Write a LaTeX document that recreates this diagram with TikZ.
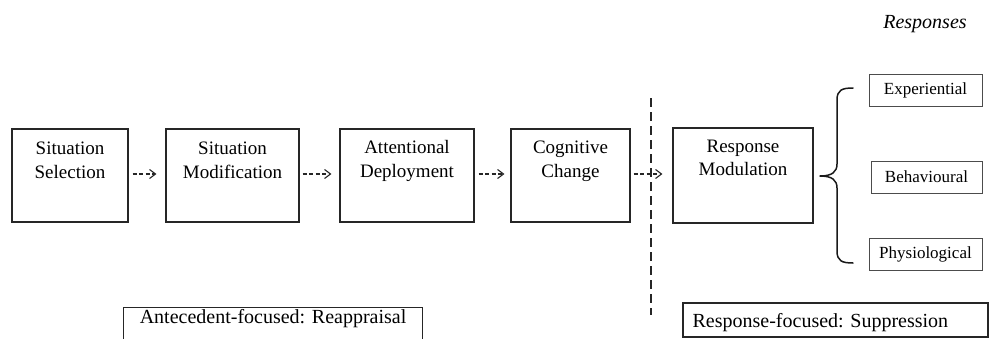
\documentclass[tikz,border=0pt]{standalone}
\usepackage{fontspec}
\setmainfont{Liberation Serif}
\usetikzlibrary{arrows.meta,calc}
\begin{document}
\begin{tikzpicture}[x=1pt,y=-1pt,
  stagebox/.style={draw=black!85, line width=1.1pt, inner sep=0pt, minimum height=93pt},
  stagetext/.style={font=\fontsize{19}{23.5}\selectfont, align=center, anchor=base, inner sep=0pt},
  respbox/.style={draw=black!70, line width=1pt, minimum height=32pt, inner sep=0pt,
    font=\fontsize{17}{20}\selectfont},
  focusbox/.style={draw=black!85, line width=1.1pt, inner sep=0pt},
  focustext/.style={font=\fontsize{20}{24}\selectfont, inner sep=0pt},
  flow/.style={draw=black!85, line width=1.1pt, dash pattern=on 4pt off 2.5pt,
    -{Straight Barb[length=6pt,width=9pt]}},
  divider/.style={draw=black!85, line width=2.2pt, dash pattern=on 8.5pt off 5.5pt},
  bracepath/.style={draw=black!90, line width=1.5pt, line join=round, line cap=round}]
\useasboundingbox (0,0) rectangle (989,338);

% the five process stages
\node[stagebox, minimum width=116pt] (s1) at (70,175.5) {};
\node[stagebox, minimum width=133pt] (s2) at (232.5,175.5) {};
\node[stagebox, minimum width=134pt] (s3) at (407,175.5) {};
\node[stagebox, minimum width=119pt] (s4) at (570.5,175.5) {};
\node[stagebox, minimum width=140pt, minimum height=95pt] (s5) at (743,175.5) {};

\node[stagetext] (t1) at ($(s1.north)+(0,50)$) {Situation\\Selection};
\node[stagetext] (t2) at ($(s2.north)+(0,50)$) {Situation\\Modification};
\node[stagetext] (t3) at ($(s3.north)+(0,49)$) {Attentional\\Deployment};
\node[stagetext] (t4) at ($(s4.north)+(0,49)$) {Cognitive\\Change};
\node[stagetext] (t5) at ($(s5.north)+(0,48.5)$) {Response\\Modulation};

% dashed arrows between stages
\draw[flow] ($(s1.east)+(4,-1.5)$) -- ($(s2.west)+(-9,-1.5)$);
\draw[flow] ($(s2.east)+(3,-1.5)$) -- ($(s3.west)+(-8,-1.5)$);
\draw[flow] ($(s3.east)+(4,-1.5)$) -- ($(s4.west)+(-6,-1.5)$);
\draw[flow] ($(s4.east)+(3,-1.5)$) -- ($(s5.west)+(-10,-1.5)$);

% boundary between antecedent- and response-focused strategies
\coordinate (divtop) at (651,98);
\coordinate (divbot) at (651,315);
\draw[divider] (divtop) -- (divbot);

% response channels
\node[font=\fontsize{20}{24}\selectfont\itshape, anchor=base, inner sep=0pt] (resphead) at (925,28.5) {Responses};
\node[respbox, minimum width=113pt] (exp) at (925.5,90) {Experiential};
\node[respbox, minimum width=111pt] (beh) at (926.5,177) {Behavioural};
\node[respbox, minimum width=113pt] (phy) at (925.5,254) {Physiological};

% curly brace grouping the responses
\draw[bracepath] (853,88) .. controls (842,88) and (837,90) .. (837,100)
  -- (837,164) .. controls (837,172) and (832,176) .. (820,176)
  .. controls (832,176) and (837,180) .. (837,188)
  -- (837,251) .. controls (837,261) and (842,263) .. (853,263);

% strategy labels
\node[focusbox, minimum width=299pt, minimum height=44pt, anchor=north west] (ante) at (123,307) {};
\node[focustext, anchor=base] (antetext) at ($(ante.north)+(0,16.5)$) {Antecedent-focused: Reappraisal};
\node[focusbox, minimum width=305pt, minimum height=34pt] (resp) at (835.5,320) {};
\node[focustext, anchor=base west] (resptext) at ($(resp.west)+(10,7)$) {Response-focused: Suppression};
\end{tikzpicture}
\end{document}
